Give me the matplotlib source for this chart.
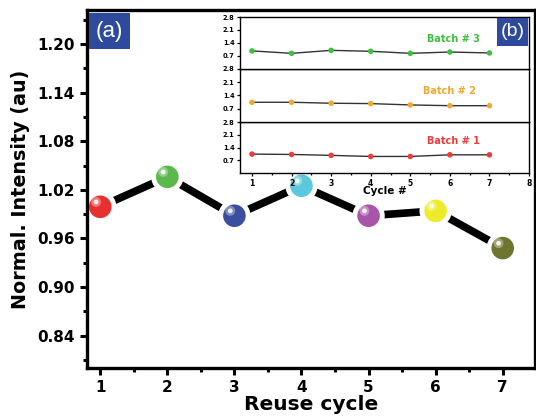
import matplotlib
matplotlib.use("Agg")
import matplotlib.pyplot as plt
import matplotlib.transforms as mtransforms
from matplotlib.patches import Rectangle

plt.rcParams['font.family'] = ['DejaVu Sans']
plt.rcParams['font.weight'] = 'bold'

# main panel data
cycles = [1, 2, 3, 4, 5, 6, 7]
intensity = [0.999, 1.036, 0.988, 1.025, 0.988, 0.994, 0.948]
ball_colors = ['#e83030', '#5cb84a', '#3a4fa0', '#5bc8dc', '#a855a8', '#eeeb2a', '#6e7530']
yticks_main = [0.84, 0.90, 0.96, 1.02, 1.08, 1.14, 1.20]

# inset data
batch1 = [1.04, 1.02, 0.97, 0.91, 0.91, 1.00, 1.00]
batch2 = [1.04, 1.04, 0.99, 0.97, 0.90, 0.86, 0.86]
batch3 = [0.97, 0.84, 1.00, 0.95, 0.84, 0.91, 0.86]
inset_yticks = [0.7, 1.4, 2.1, 2.8]
batch_colors = ['#ee3b3b', '#f0a830', '#3cc040']

W, H = 536, 420
fig = plt.figure(figsize=(W / 100, H / 100), dpi=100)
ax = fig.add_axes([0.162, 0.124, 0.836, 0.852])

ax.plot(cycles, intensity, color='black', lw=5.5, zorder=1)
ax.scatter(cycles, intensity, s=390, c=ball_colors, edgecolors='white', linewidths=3.5, zorder=2)
# glossy highlight
hl = mtransforms.offset_copy(ax.transData, fig=fig, x=-3, y=3.5, units='points')
ax.scatter(cycles, intensity, s=50, c='white', alpha=0.35, edgecolors='none', transform=hl, zorder=3)
ax.scatter(cycles, intensity, s=12, c='white', alpha=0.85, edgecolors='none', transform=hl, zorder=4)

ax.set_xlim(0.8, 7.48)
ax.set_ylim(0.80, 1.242)
ax.set_xticks(cycles)
ax.set_xticks([1.5, 2.5, 3.5, 4.5, 5.5, 6.5], minor=True)
ax.set_yticks(yticks_main)
ax.set_yticks([0.81, 0.87, 0.93, 0.99, 1.05, 1.11, 1.17, 1.23], minor=True)
ax.set_yticklabels(['%.2f' % v for v in yticks_main])
ax.tick_params(which='major', direction='out', length=5, width=2.2, labelsize=11)
ax.tick_params(which='minor', direction='out', length=3, width=2.2)
for s in ax.spines.values():
    s.set_linewidth(2.4)
ax.set_xlabel('Reuse cycle', fontsize=14.5, fontweight='bold', labelpad=0)
ax.set_ylabel('Normal. Intensity (au)', fontsize=13.8, fontweight='bold', labelpad=5)


def label_box(x0, y0, x1, y1, txt, size):
    # pixel box (top-left origin) -> figure fraction
    fig.patches.append(Rectangle((x0 / W, 1 - y1 / H), (x1 - x0) / W, (y1 - y0) / H,
                                 transform=fig.transFigure, fc='#2e4a9c', ec='none', zorder=10))
    fig.text((x0 + x1) / 2 / W, 1 - (y0 + y1) / 2 / H, txt, color='white', fontsize=size,
             fontweight='normal', ha='center', va='center', zorder=11,
             family=['Liberation Sans', 'DejaVu Sans'])


# inset: three stacked panels
left, width = 0.448, 0.539
bottoms = [0.588, 0.7095, 0.836]
heights = [0.1215, 0.1265, 0.1235]
batches = [batch1, batch2, batch3]
names = ['Batch # 1', 'Batch # 2', 'Batch # 3']
label_x = [6.1, 6.0, 6.1]
label_y = [1.77, 1.64, 1.61]
insets = []
for i in range(3):
    a = fig.add_axes([left, bottoms[i], width, heights[i]])
    a.plot(cycles, batches[i], color='#333333', lw=1.0, zorder=1)
    a.scatter(cycles, batches[i], s=16, color=batch_colors[i], edgecolors='none', zorder=2)
    a.set_xlim(0.7, 8.0)
    a.set_ylim(0, 2.8)
    a.set_yticks(inset_yticks)
    a.set_yticklabels(['%.1f' % v for v in inset_yticks])
    a.set_xticks(range(1, 9))
    a.set_xticks([1.5, 2.5, 3.5, 4.5, 5.5, 6.5, 7.5], minor=True)
    a.tick_params(which='both', direction='out', labelsize=4.8, width=0.9, length=2.5, pad=1.5)
    a.tick_params(axis='x', labelsize=5.5)
    a.tick_params(which='minor', length=1.5)
    for s in a.spines.values():
        s.set_linewidth(1.0)
    a.text(label_x[i], label_y[i], names[i], color=batch_colors[i], fontsize=7, fontweight='bold',
           ha='center', va='center')
    if i > 0:
        a.tick_params(axis='x', which='both', labelbottom=False, length=0)
    insets.append(a)

insets[0].set_xlabel('Cycle #', fontsize=7.5, fontweight='bold', labelpad=-1)

label_box(89, 13, 130, 49, '(a)', 16)
label_box(497, 18, 528, 46, '(b)', 14)

fig.savefig('out.png', dpi=100)
